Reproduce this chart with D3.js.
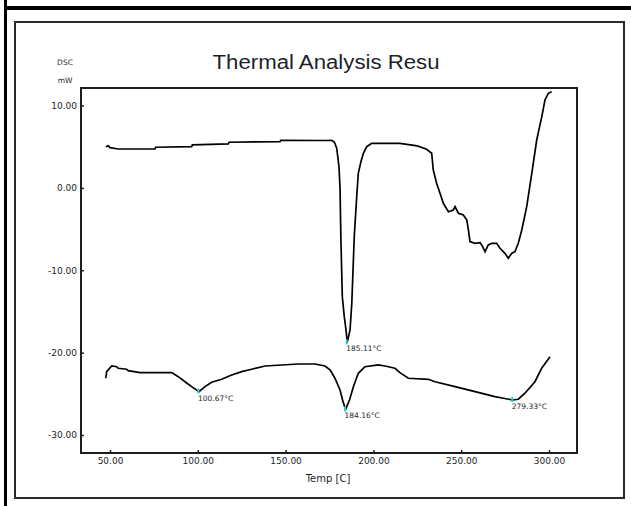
<!DOCTYPE html>
<html>
<head>
<meta charset="utf-8">
<script src="https://cdn.jsdelivr.net/npm/d3@7"></script>
<style>
  html, body { margin: 0; padding: 0; background: #fff; }
  svg { display: block; }
  text { fill: #1c1f2a; }
</style>
</head>
<body>
<svg id="chart" width="631" height="506"></svg>
<script>
// DSC scan 1: temperature (°C) and heat flow (mW)
const scan1Temp = [47.6, 49.0, 50.0, 54.7, 75.6, 76.0, 96.5, 96.9, 117.4, 117.8, 146.8, 147.2, 172.4, 176.3,
  177.8, 179.1, 179.7, 180.4, 181.0, 181.5, 182.3, 183.4, 184.4, 185.11, 186.7, 187.7, 189.1, 190.5, 191.4,
  192.9, 194.3, 196.2, 199.0, 206.6, 215.1, 225.0, 230.3, 233.2, 234.1, 236.0, 238.9, 239.8, 242.7, 245.5,
  246.5, 248.4, 251.2, 253.2, 254.1, 255.0, 257.9, 260.7, 261.7, 263.6, 265.4, 267.4, 270.2, 272.1, 274.9,
  276.8, 278.8, 280.6, 282.5, 284.5, 287.3, 290.2, 293.0, 295.9, 297.7, 299.6, 301.5];
const scan1Flow = [5.0, 5.12, 4.88, 4.72, 4.72, 4.93, 5.0, 5.21, 5.33, 5.54, 5.61, 5.78, 5.75, 5.78,
  5.54, 4.81, 3.79, 2.57, -0.05, -6.32, -13.2, -15.6, -17.25, -18.75, -17.25, -14.0, -5.92, -1.07, 1.77,
  3.18, 4.2, 5.0, 5.41, 5.41, 5.41, 5.1, 4.69, 4.2, 2.17, 0.56, -1.26, -1.87, -2.89, -2.68,
  -2.28, -3.08, -3.29, -3.9, -5.11, -6.53, -6.73, -6.65, -6.93, -7.75, -6.93, -6.73, -6.73, -7.33, -7.94,
  -8.55, -7.94, -7.75, -6.73, -5.11, -2.28, 1.77, 5.81, 8.64, 10.67, 11.48, 11.68];

// DSC scan 2: temperature (°C) and heat flow (mW)
const scan2Temp = [47.6, 48.1, 51.0, 53.8, 54.7, 59.5, 60.4, 67.1, 85.1, 88.9, 92.7, 96.5, 100.67, 104.1,
  107.9, 113.6, 119.3, 125.0, 130.7, 138.3, 147.8, 157.2, 166.7, 172.4, 175.3, 178.1, 181.0, 182.7, 184.16,
  186.4, 188.6, 191.4, 195.2, 202.8, 206.6, 212.3, 215.1, 219.9, 231.3, 235.1, 246.5, 257.9, 269.2, 279.33,
  282.5, 286.3, 292.0, 295.8, 300.6];
const scan2Flow = [-23.11, -22.31, -21.62, -21.71, -21.9, -22.02, -22.19, -22.43, -22.43, -22.92, -23.53, -24.13, -24.74, -24.13,
  -23.6, -23.24, -22.71, -22.31, -22.02, -21.62, -21.5, -21.38, -21.38, -21.62, -22.1, -23.11, -24.53, -25.95, -26.88,
  -25.75, -24.13, -22.51, -21.71, -21.5, -21.62, -21.9, -22.43, -23.11, -23.24, -23.53, -24.13, -24.74, -25.35, -25.75,
  -25.66, -24.93, -23.53, -21.9, -20.49];

// Annotated peaks
const peakTemp = [100.67, 185.11, 184.16, 279.33];
const peakFlow = [-24.74, -18.75, -26.88, -25.75];
const peakLabel = ["100.67°C", "185.11°C", "184.16°C", "279.33°C"];

// Axis ticks
const xTicks = [50, 100, 150, 200, 250, 300];
const yTicks = [10, 0, -10, -20, -30];

const titleText = "Thermal Analysis Resu";
const xTitle = "Temp [C]";
const yTitle = ["DSC", "mW"];

const svg = d3.select("#chart");

// Page frames
svg.append("rect").attr("x", 0).attr("y", 0).attr("width", 631).attr("height", 506).attr("fill", "#fff");
svg.append("rect").attr("x", 4).attr("y", 0).attr("width", 3).attr("height", 506).attr("fill", "#000");
svg.append("rect").attr("x", 4).attr("y", 6).attr("width", 627).attr("height", 4).attr("fill", "#000");
svg.append("rect").attr("x", 15).attr("y", 22).attr("width", 609).attr("height", 476)
  .attr("fill", "none").attr("stroke", "#2a2a2a").attr("stroke-width", 2);

const plot = { left: 81, right: 577, top: 88, bottom: 453 };

const x = d3.scaleLinear().domain([50, 300]).range([110, 549]);
const y = d3.scaleLinear().domain([-30, 10]).range([435, 105.5]);

// Plot box
svg.append("rect")
  .attr("x", plot.left).attr("y", plot.top)
  .attr("width", plot.right - plot.left).attr("height", plot.bottom - plot.top)
  .attr("fill", "none").attr("stroke", "#1e1e1e").attr("stroke-width", 2);

const fmt = v => v.toFixed(2);

const xAxis = svg.append("g")
  .attr("transform", `translate(0,${plot.bottom})`)
  .call(d3.axisBottom(x).tickValues(xTicks).tickFormat(fmt).tickSizeInner(-3).tickSizeOuter(0).tickPadding(5));
const yAxis = svg.append("g")
  .attr("transform", `translate(${plot.left},0)`)
  .call(d3.axisLeft(y).tickValues(yTicks).tickFormat(fmt).tickSizeInner(-3).tickSizeOuter(0).tickPadding(4));

[xAxis, yAxis].forEach(g => {
  g.select(".domain").remove();
  g.selectAll(".tick line").attr("stroke", "#1e1e1e").attr("stroke-width", 1.5);
  g.selectAll(".tick text")
    .attr("font-family", "DejaVu Sans")
    .attr("font-size", 9)
    .attr("fill", "#1c1f2a");
});

// Titles
svg.append("text")
  .attr("x", 326).attr("y", 69)
  .attr("text-anchor", "middle")
  .attr("font-family", "Liberation Sans, Arial, sans-serif")
  .attr("font-size", 20)
  .attr("textLength", 227).attr("lengthAdjust", "spacingAndGlyphs")
  .text(titleText);

svg.append("text")
  .attr("x", 328).attr("y", 482)
  .attr("text-anchor", "middle")
  .attr("font-family", "DejaVu Sans")
  .attr("font-size", 10)
  .text(xTitle);

svg.selectAll(".ytitle").data(yTitle).join("text")
  .attr("class", "ytitle")
  .attr("x", 65).attr("y", (d, i) => 65 + i * 18)
  .attr("text-anchor", "middle")
  .attr("font-family", "DejaVu Sans")
  .attr("font-size", 7.5)
  .text(d => d);

// Curves
const line = d3.line().x(d => x(d[0])).y(d => y(d[1]));
const scan1 = d3.zip(scan1Temp, scan1Flow);
const scan2 = d3.zip(scan2Temp, scan2Flow);

svg.append("path").datum(scan1).attr("d", line)
  .attr("fill", "none").attr("stroke", "#000").attr("stroke-width", 1.7).attr("stroke-linejoin", "miter");
svg.append("path").datum(scan2).attr("d", line)
  .attr("fill", "none").attr("stroke", "#000").attr("stroke-width", 1.7).attr("stroke-linejoin", "miter");

// Peak markers and labels
const peaks = peakTemp.map((t, i) => ({ t, v: peakFlow[i], label: peakLabel[i] }));
svg.selectAll(".peak-mark").data(peaks).join("rect")
  .attr("class", "peak-mark")
  .attr("x", d => x(d.t) - 1.5).attr("y", d => y(d.v) - 3)
  .attr("width", 2).attr("height", 5)
  .attr("fill", "#19d3d3");
svg.selectAll(".peak-label").data(peaks).join("text")
  .attr("class", "peak-label")
  .attr("x", d => x(d.t) - 1).attr("y", d => y(d.v) + 9)
  .attr("font-family", "DejaVu Sans")
  .attr("font-size", 7.5)
  .text(d => d.label);
</script>
</body>
</html>
